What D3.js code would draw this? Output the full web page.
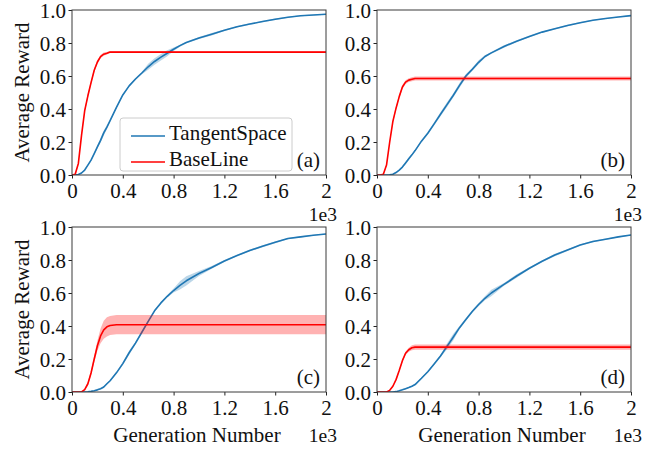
<!DOCTYPE html>
<html>
<head>
<meta charset="utf-8">
<script src="https://cdn.jsdelivr.net/npm/d3@7"></script>
<style>
  html, body { margin: 0; padding: 0; background: #fff; }
  svg { display: block; }
  svg text { font-family: "Liberation Serif", "Times New Roman", serif !important; }
</style>
</head>
<body>
<svg id="chart" width="670" height="450"></svg>
<script>
// ---------- DATA ----------
const panelLabels = ["(a)", "(b)", "(c)", "(d)"];
const seriesNames = ["TangentSpace", "BaseLine"];
const xTickValues = [0, 400, 800, 1200, 1600, 2000];
const xTickLabels = ["0", "0.4", "0.8", "1.2", "1.6", "2"];
const yTickValues = [0, 0.2, 0.4, 0.6, 0.8, 1.0];
const yTickLabels = ["0.0", "0.2", "0.4", "0.6", "0.8", "1.0"];

// generation numbers (shared sampling grid)
const generations = [0, 25, 50, 75, 100, 125, 150, 175, 200, 225, 250, 275, 300, 350, 400, 450, 500, 550, 600, 650, 700, 750, 800, 850, 900, 1000, 1100, 1200, 1300, 1400, 1500, 1600, 1700, 1800, 1900, 2000];

// TangentSpace mean / std per panel
const tangentA = [0, 0, 0.003, 0.012, 0.03, 0.06, 0.09, 0.13, 0.17, 0.21, 0.255, 0.29, 0.33, 0.41, 0.485, 0.54, 0.582, 0.618, 0.656, 0.688, 0.714, 0.738, 0.762, 0.784, 0.803, 0.83, 0.853, 0.877, 0.899, 0.915, 0.93, 0.944, 0.956, 0.965, 0.97, 0.974];
const tangentStdA = [0, 0, 0.002, 0.003, 0.004, 0.005, 0.006, 0.006, 0.01, 0.015, 0.015, 0.012, 0.006, 0.005, 0.005, 0.005, 0.006, 0.008, 0.018, 0.02, 0.02, 0.018, 0.01, 0.006, 0.005, 0.006, 0.008, 0.005, 0.004, 0.004, 0.004, 0.004, 0.003, 0.003, 0.003, 0.003];
const tangentB = [0, 0, 0, 0, 0.001, 0.005, 0.015, 0.03, 0.048, 0.073, 0.098, 0.122, 0.148, 0.205, 0.253, 0.31, 0.368, 0.425, 0.482, 0.543, 0.6, 0.64, 0.683, 0.718, 0.74, 0.779, 0.811, 0.84, 0.866, 0.886, 0.906, 0.923, 0.938, 0.948, 0.958, 0.966];
const tangentStdB = [0, 0, 0, 0, 0.001, 0.002, 0.003, 0.004, 0.006, 0.008, 0.008, 0.006, 0.005, 0.006, 0.008, 0.01, 0.012, 0.015, 0.012, 0.014, 0.012, 0.008, 0.012, 0.008, 0.005, 0.008, 0.005, 0.005, 0.004, 0.004, 0.004, 0.004, 0.003, 0.003, 0.003, 0.003];
const tangentC = [0, 0, 0, 0, 0, 0.001, 0.004, 0.008, 0.013, 0.02, 0.03, 0.05, 0.068, 0.116, 0.172, 0.238, 0.296, 0.362, 0.428, 0.492, 0.54, 0.58, 0.615, 0.646, 0.674, 0.718, 0.755, 0.794, 0.827, 0.858, 0.883, 0.907, 0.93, 0.94, 0.95, 0.958];
const tangentStdC = [0, 0, 0, 0, 0, 0.001, 0.002, 0.003, 0.004, 0.004, 0.005, 0.005, 0.005, 0.006, 0.008, 0.012, 0.008, 0.006, 0.006, 0.006, 0.006, 0.008, 0.012, 0.025, 0.028, 0.015, 0.008, 0.006, 0.005, 0.005, 0.006, 0.005, 0.004, 0.004, 0.003, 0.003];
const tangentD = [0, 0, 0, 0, 0, 0, 0.002, 0.007, 0.013, 0.02, 0.027, 0.035, 0.045, 0.083, 0.123, 0.17, 0.218, 0.275, 0.332, 0.39, 0.44, 0.488, 0.53, 0.568, 0.6, 0.652, 0.703, 0.75, 0.792, 0.83, 0.86, 0.891, 0.912, 0.926, 0.94, 0.952];
const tangentStdD = [0, 0, 0, 0, 0, 0, 0.001, 0.002, 0.003, 0.003, 0.004, 0.004, 0.004, 0.005, 0.005, 0.006, 0.008, 0.018, 0.02, 0.01, 0.008, 0.008, 0.01, 0.012, 0.02, 0.008, 0.01, 0.006, 0.005, 0.008, 0.005, 0.005, 0.004, 0.004, 0.003, 0.003];

// BaseLine mean / std per panel
const baseA = [0, 0.005, 0.07, 0.24, 0.39, 0.48, 0.56, 0.635, 0.685, 0.718, 0.732, 0.738, 0.745, 0.745, 0.745, 0.745, 0.745, 0.745, 0.745, 0.745, 0.745, 0.745, 0.745, 0.745, 0.745, 0.745, 0.745, 0.745, 0.745, 0.745, 0.745, 0.745, 0.745, 0.745, 0.745, 0.745];
const baseStdA = [0, 0.002, 0.006, 0.01, 0.012, 0.012, 0.012, 0.012, 0.012, 0.01, 0.01, 0.008, 0.006, 0.006, 0.006, 0.006, 0.006, 0.006, 0.006, 0.006, 0.006, 0.006, 0.006, 0.006, 0.006, 0.006, 0.006, 0.006, 0.006, 0.006, 0.006, 0.006, 0.006, 0.006, 0.006, 0.006];
const baseB = [0, 0, 0.005, 0.06, 0.2, 0.325, 0.405, 0.475, 0.533, 0.563, 0.575, 0.58, 0.585, 0.585, 0.585, 0.585, 0.585, 0.585, 0.585, 0.585, 0.585, 0.585, 0.585, 0.585, 0.585, 0.585, 0.585, 0.585, 0.585, 0.585, 0.585, 0.585, 0.585, 0.585, 0.585, 0.585];
const baseStdB = [0, 0, 0.002, 0.005, 0.008, 0.01, 0.01, 0.01, 0.012, 0.012, 0.012, 0.012, 0.012, 0.012, 0.012, 0.012, 0.012, 0.012, 0.012, 0.012, 0.012, 0.012, 0.012, 0.012, 0.012, 0.012, 0.012, 0.012, 0.012, 0.012, 0.012, 0.012, 0.012, 0.012, 0.012, 0.012];
const baseC = [0, 0, 0, 0.001, 0.015, 0.05, 0.115, 0.2, 0.28, 0.34, 0.377, 0.395, 0.403, 0.408, 0.408, 0.408, 0.408, 0.408, 0.408, 0.408, 0.408, 0.408, 0.408, 0.408, 0.408, 0.408, 0.408, 0.408, 0.408, 0.408, 0.408, 0.408, 0.408, 0.408, 0.408, 0.408];
const baseStdC = [0, 0, 0, 0.001, 0.005, 0.01, 0.015, 0.02, 0.03, 0.045, 0.055, 0.058, 0.058, 0.058, 0.058, 0.058, 0.058, 0.058, 0.058, 0.058, 0.058, 0.058, 0.058, 0.058, 0.058, 0.058, 0.058, 0.058, 0.058, 0.058, 0.058, 0.058, 0.058, 0.058, 0.058, 0.058];
const baseD = [0, 0, 0, 0, 0.01, 0.035, 0.075, 0.13, 0.19, 0.235, 0.256, 0.268, 0.272, 0.272, 0.272, 0.272, 0.272, 0.272, 0.272, 0.272, 0.272, 0.272, 0.272, 0.272, 0.272, 0.272, 0.272, 0.272, 0.272, 0.272, 0.272, 0.272, 0.272, 0.272, 0.272, 0.272];
const baseStdD = [0, 0, 0, 0, 0.002, 0.004, 0.005, 0.006, 0.008, 0.01, 0.012, 0.015, 0.016, 0.016, 0.016, 0.016, 0.016, 0.016, 0.016, 0.016, 0.016, 0.016, 0.016, 0.016, 0.016, 0.016, 0.016, 0.016, 0.016, 0.016, 0.016, 0.016, 0.016, 0.016, 0.016, 0.016];

const tangentMeans = [tangentA, tangentB, tangentC, tangentD];
const tangentStds = [tangentStdA, tangentStdB, tangentStdC, tangentStdD];
const baseMeans = [baseA, baseB, baseC, baseD];
const baseStds = [baseStdA, baseStdB, baseStdC, baseStdD];

// ---------- LAYOUT ----------
const colors = { tangent: "#1f77b4", base: "#ff0000" };
const FONT = 21;
const SERIF = "'Liberation Serif', 'Times New Roman', serif";
const colLeft = [72, 377];
const rowTop = [10, 227];
const pw = 254, ph = 165;

const svg = d3.select("#chart");

for (let p = 0; p < 4; p++) {
  const col = p % 2, row = Math.floor(p / 2);
  const x0 = colLeft[col], y0 = rowTop[row];
  const g = svg.append("g").attr("transform", `translate(${x0},${y0})`);

  const x = d3.scaleLinear().domain([0, 2000]).range([0, pw]);
  const y = d3.scaleLinear().domain([0, 1]).range([ph, 0]);

  const clipId = "clip" + p;
  g.append("clipPath").attr("id", clipId).append("rect").attr("width", pw).attr("height", ph);
  const plot = g.append("g").attr("clip-path", `url(#${clipId})`);

  const drawSeries = (means, stds, color) => {
    const data = generations.map((gen, i) => ({ gen, m: means[i], s: stds[i] }));
    plot.append("path").datum(data)
      .attr("fill", color).attr("fill-opacity", 0.3).attr("stroke", "none")
      .attr("d", d3.area().x(d => x(d.gen)).y0(d => y(d.m - d.s)).y1(d => y(d.m + d.s)));
    plot.append("path").datum(data)
      .attr("fill", "none").attr("stroke", color).attr("stroke-width", 1.6)
      .attr("stroke-linejoin", "round")
      .attr("d", d3.line().x(d => x(d.gen)).y(d => y(d.m)));
  };
  drawSeries(tangentMeans[p], tangentStds[p], colors.tangent);
  drawSeries(baseMeans[p], baseStds[p], colors.base);

  // axes
  const xAxis = d3.axisBottom(x).tickValues(xTickValues)
    .tickFormat((d, i) => xTickLabels[i]).tickSizeInner(3.5).tickSizeOuter(0).tickPadding(3.5);
  const gx = g.append("g").attr("transform", `translate(0,${ph})`).call(xAxis);
  const yAxis = d3.axisLeft(y).tickValues(yTickValues)
    .tickFormat((d, i) => yTickLabels[i]).tickSizeInner(3.5).tickSizeOuter(0).tickPadding(3.5);
  const gy = g.append("g").call(yAxis);
  [gx, gy].forEach(a => {
    a.attr("font-family", SERIF).attr("font-size", FONT);
    a.select(".domain").remove();
    a.selectAll(".tick line").attr("stroke", "#222").attr("stroke-width", 1);
    a.selectAll(".tick text").attr("font-family", SERIF).attr("font-size", FONT).attr("fill", "#111");
  });
  gx.selectAll(".tick text").attr("dy", null).attr("y", 22.5);
  gy.selectAll(".tick text").attr("dy", null).attr("y", 7).attr("x", -6);

  // frame
  g.append("rect").attr("x", 0).attr("y", 0).attr("width", pw).attr("height", ph)
    .attr("fill", "none").attr("stroke", "#3a3a3a").attr("stroke-width", 1);

  const addText = (sel, size) => sel.attr("font-family", SERIF).attr("font-size", size || FONT).attr("fill", "#111");

  // panel label
  addText(g.append("text").attr("x", pw - 6).attr("y", ph - 8).attr("text-anchor", "end")).text(panelLabels[p]);

  // offset text
  addText(g.append("text").attr("x", pw + 11).attr("y", row === 0 ? ph + 45.5 : ph + 50)
    .attr("text-anchor", "end"), 19.5).text("1e3");

  if (col === 0) {
    addText(g.append("text").attr("transform", `translate(${29 - x0},${ph / 2}) rotate(-90)`)
      .attr("text-anchor", "middle")).text("Average Reward");
  }
  if (row === 1) {
    addText(g.append("text").attr("x", pw / 2 - 2).attr("y", ph + 50)
      .attr("text-anchor", "middle")).text("Generation Number");
  }

  if (p === 0) {
    const lg = g.append("g").attr("transform", `translate(${120 - x0},${118 - y0})`);
    lg.append("rect").attr("width", 172).attr("height", 53).attr("rx", 3)
      .attr("fill", "#fff").attr("fill-opacity", 0.85).attr("stroke", "#ccc").attr("stroke-width", 1);
    const items = [{ name: seriesNames[0], c: colors.tangent }, { name: seriesNames[1], c: colors.base }];
    items.forEach((it, i) => {
      const ly = 18 + i * 26;
      lg.append("line").attr("x1", 11).attr("x2", 45).attr("y1", ly).attr("y2", ly)
        .attr("stroke", it.c).attr("stroke-width", 1.6);
      addText(lg.append("text").attr("x", 49).attr("y", ly + 4)).text(it.name);
    });
  }
}
</script>
</body>
</html>
